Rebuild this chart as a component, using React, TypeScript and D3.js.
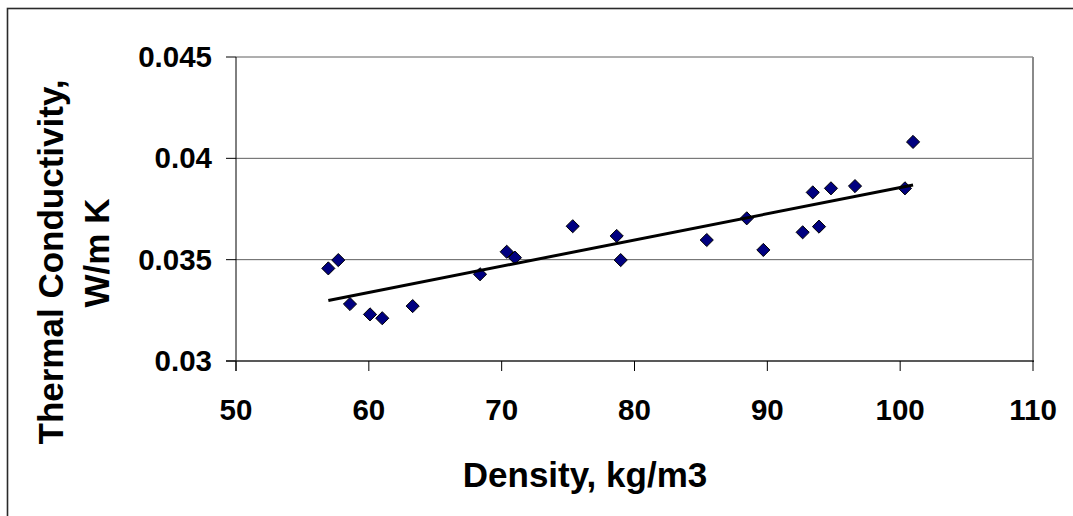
import * as d3 from 'd3'

// density (kg/m3) and thermal conductivity (W/m K)
const density = [
  56.95, 57.7, 58.58, 60.09, 61.01, 63.3, 68.37, 70.38, 71.0, 75.35, 78.66,
  78.96, 85.44, 88.45, 89.7, 92.66, 93.42, 93.89, 94.79, 96.6, 100.36, 100.97,
]
const conductivity = [
  0.03457, 0.03498, 0.03281, 0.0323, 0.03211, 0.03271, 0.03428, 0.03539, 0.0351,
  0.03665, 0.03617, 0.03498, 0.03597, 0.03704, 0.03548, 0.03635, 0.03832,
  0.03663, 0.03852, 0.03863, 0.03852, 0.04081,
]
const xTicks = [50, 60, 70, 80, 90, 100, 110]
const yTicks = [0.03, 0.035, 0.04, 0.045]
const yTickLabels = ['0.03', '0.035', '0.04', '0.045']

const W = 1073
const H = 516
const font = '"Liberation Sans", Arial, sans-serif'

// least squares fit for the trend line
function linearFit(xs: number[], ys: number[]) {
  const mx = d3.mean(xs) as number
  const my = d3.mean(ys) as number
  let sxy = 0
  let sxx = 0
  xs.forEach((x, i) => {
    sxy += (x - mx) * (ys[i] - my)
    sxx += (x - mx) * (x - mx)
  })
  const slope = sxy / sxx
  return { slope, intercept: my - slope * mx }
}

export default function App() {
  const x = d3.scaleLinear().domain([50, 110]).range([236, 1033])
  const y = d3.scaleLinear().domain([0.03, 0.045]).range([361, 57])

  const points = density.map((d, i) => ({ x: d, y: conductivity[i] }))
  const fit = linearFit(density, conductivity)
  const [xMin, xMax] = d3.extent(density) as [number, number]
  const trend = d3
    .line<number>()
    .x((d) => x(d))
    .y((d) => y(fit.intercept + fit.slope * d))([xMin, xMax])

  const diamond = d3.symbol(d3.symbolDiamond2, 110)()

  return (
    <svg
      width={W}
      height={H}
      style={{ position: 'absolute', left: 0, top: 0, background: '#fff' }}
      fontFamily={font}
      fontWeight="bold"
    >
      <rect x={7.5} y={8.5} width={1200} height={700} fill="#fff" stroke="#2a2a2a" strokeWidth={1.6} />

      {/* gridlines */}
      {yTicks.slice(1).map((t) => (
        <line key={t} x1={236} x2={1033} y1={y(t)} y2={y(t)} stroke="#5e5e5e" strokeWidth={1} />
      ))}
      {/* right border of plot area */}
      <line x1={1033} x2={1033} y1={57} y2={362} stroke="#8a8a8a" strokeWidth={2} />

      {/* y axis */}
      <line x1={236} x2={236} y1={57} y2={371} stroke="#000" strokeWidth={1} />
      {yTicks.map((t, i) => (
        <g key={t}>
          <line x1={226} x2={236} y1={y(t)} y2={y(t)} stroke="#000" strokeWidth={1} />
          <text x={212} y={y(t) + 10} textAnchor="end" fontSize={29.5} fill="#000">
            {yTickLabels[i]}
          </text>
        </g>
      ))}

      {/* x axis */}
      <line x1={226} x2={1034} y1={361} y2={361} stroke="#222" strokeWidth={1.5} />
      {xTicks.map((t) => (
        <g key={t}>
          <line x1={x(t)} x2={x(t)} y1={361} y2={371} stroke="#000" strokeWidth={1} />
          <text x={x(t)} y={420} textAnchor="middle" fontSize={29.5} fill="#000">
            {t}
          </text>
        </g>
      ))}

      {/* markers */}
      {points.map((p, i) => (
        <path
          key={i}
          d={diamond as string}
          transform={`translate(${x(p.x)},${y(p.y)})`}
          fill="#000080"
          stroke="#000"
          strokeWidth={1}
        />
      ))}

      {/* trend line */}
      <path d={trend as string} fill="none" stroke="#000" strokeWidth={3} />

      {/* axis titles */}
      <text x={585} y={487} textAnchor="middle" fontSize={35} fill="#000">
        Density, kg/m3
      </text>
      <text transform="translate(63,262) rotate(-90)" textAnchor="middle" fontSize={35} fill="#000">
        Thermal Conductivity,
      </text>
      <text transform="translate(109,253) rotate(-90)" textAnchor="middle" fontSize={35} fill="#000">
        W/m K
      </text>
    </svg>
  )
}
